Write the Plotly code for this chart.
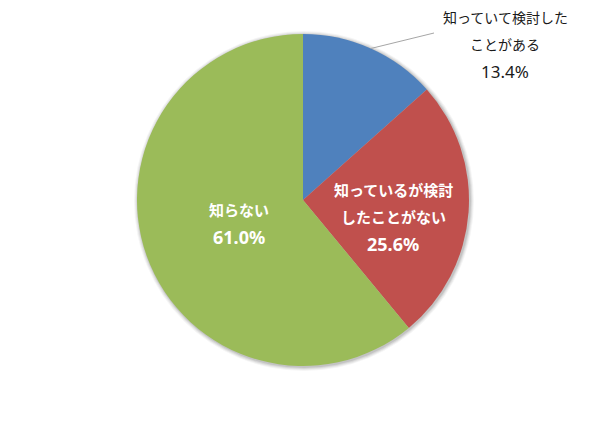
import math
import plotly.graph_objects as go

# Data
labels = ["知っていて検討したことがある", "知っているが検討したことがない", "知らない"]
label_lines = [["知っていて検討した", "ことがある"], ["知っているが検討", "したことがない"], ["知らない"]]
values = [13.4, 25.6, 61.0]
colors = ["#4F81BD", "#C0504D", "#9BBB59"]

W, H = 597, 429
OFF = 8  # page body margin in the viewer
CX, CY, R = 303 - OFF, 200 - OFF, 166  # pixel geometry of the pie (within figure)


def px(x, y):
    # x, y are screen pixel positions; convert to paper coords
    return (x - OFF) / W, 1 - (y - OFF) / H


fig = go.Figure(go.Pie(
    labels=labels, values=values, sort=False, direction="clockwise", rotation=0,
    marker=dict(colors=colors, line=dict(width=0)),
    textinfo="none", hoverinfo="label+percent",
    domain=dict(x=[(CX - R) / W, (CX + R) / W], y=[(H - CY - R) / H, (H - CY + R) / H]),
    showlegend=False,
))

annotations = []
shapes = []

# soft shadow around the pie
SCX, SCY = CX + OFF, CY + OFF
for k, op in [(4, 0.04), (3, 0.05), (2, 0.07), (1, 0.09)]:
    a0, b0 = px(SCX - R - k + 1, SCY - R - k + 1)
    a1, b1 = px(SCX + R + k + 1, SCY + R + k + 1)
    shapes.append(dict(type="circle", xref="paper", yref="paper", x0=a0, y0=b0, x1=a1, y1=b1,
                       fillcolor="black", opacity=op, line=dict(width=0), layer="below"))

total = sum(values)
cum = 0
radial = [None, 0.55, 0.41]
nudge = [None, (-1, 10), (0, 0)]
FONT = "Noto Sans CJK JP, Noto Sans, sans-serif"
NUMFONT = "Noto Sans, DejaVu Sans, sans-serif"
for i, v in enumerate(values):
    mid = (cum + v / 2) / total * 2 * math.pi
    cum += v
    pct = f"{v:.1f}%"
    lines = label_lines[i] + [pct]
    if i == 0:
        ex, ey = SCX + R * math.sin(mid), SCY - R * math.cos(mid)
        x0, y0 = px(ex, ey)
        x1, y1 = px(434, 33)
        shapes.append(dict(type="line", xref="paper", yref="paper", x0=x0, y0=y0, x1=x1, y1=y1,
                           line=dict(color="#A6A6A6", width=1)))
        tx, ty = 505, 44
        for k, t in enumerate(lines):
            is_pct = k == len(lines) - 1
            ax, ay = px(tx, ty + (k - 1) * 27)
            annotations.append(dict(x=ax, y=ay, xref="paper", yref="paper", text=t, showarrow=False,
                                    font=dict(family=NUMFONT if is_pct else FONT, size=17 if is_pct else 14,
                                              color="#1a1a1a"), borderpad=0,
                                    xanchor="center", yanchor="middle"))
    else:
        lx = SCX + radial[i] * R * math.sin(mid) + nudge[i][0]
        ly = SCY - radial[i] * R * math.cos(mid) + nudge[i][1]
        n = len(lines)
        for k, t in enumerate(lines):
            is_pct = k == n - 1
            ax, ay = px(lx, ly + (k - (n - 1) / 2) * 27)
            annotations.append(dict(x=ax, y=ay, xref="paper", yref="paper", text=f"<b>{t}</b>", showarrow=False,
                                    font=dict(family=NUMFONT if is_pct else FONT, size=18 if is_pct else 15,
                                              color="white"), borderpad=0,
                                    xanchor="center", yanchor="middle"))

fig.update_layout(
    width=W, height=H, margin=dict(l=0, r=0, t=0, b=0),
    paper_bgcolor="white", plot_bgcolor="white",
    annotations=annotations, shapes=shapes,
)
fig.write_html("out.html")
